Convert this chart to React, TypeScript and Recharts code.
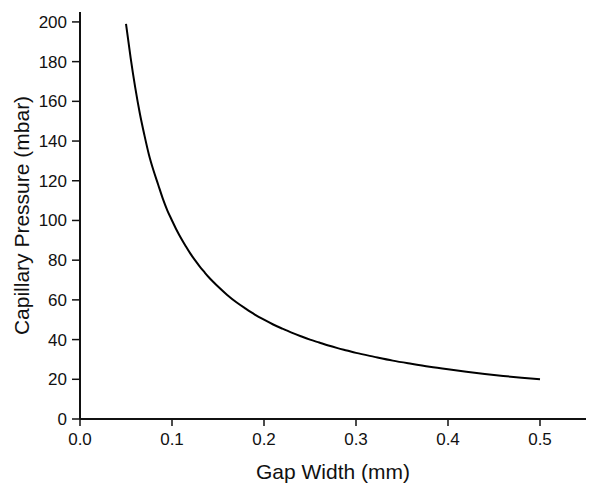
import { LineChart, Line, XAxis, YAxis } from 'recharts';

// gap width (mm) vs capillary pressure (mbar)
const gapWidth = [
  0.05, 0.055, 0.06, 0.065, 0.07, 0.075, 0.08, 0.085, 0.09, 0.095,
  0.1, 0.105, 0.11, 0.115, 0.12, 0.125, 0.13, 0.135, 0.14, 0.145,
  0.15, 0.16, 0.17, 0.18, 0.19, 0.2, 0.21, 0.22, 0.23, 0.24,
  0.25, 0.26, 0.27, 0.28, 0.29, 0.3, 0.32, 0.34, 0.36, 0.38,
  0.4, 0.42, 0.44, 0.46, 0.48, 0.5,
];
const pressure = [
  199, 182, 167, 154, 143, 133, 125, 118, 111, 105,
  100, 95.2, 90.9, 87, 83.3, 80, 76.9, 74.1, 71.4, 69,
  66.7, 62.5, 58.8, 55.6, 52.6, 50, 47.6, 45.5, 43.5, 41.7,
  40, 38.5, 37, 35.7, 34.5, 33.3, 31.3, 29.4, 27.8, 26.3,
  25, 23.8, 22.7, 21.7, 20.8, 20,
];

const xMajor = [0, 0.1, 0.2, 0.3, 0.4, 0.5];
const xMinor = [0.05, 0.15, 0.25, 0.35, 0.45, 0.55];
const yMajor = [0, 20, 40, 60, 80, 100, 120, 140, 160, 180, 200];
const yMinor = [10, 30, 50, 70, 90, 110, 130, 150, 170, 190];

const data = gapWidth.map((x, i) => ({ x, p: pressure[i] }));

const font = 'Liberation Sans, Arial, Helvetica, sans-serif';
const ink = '#111';

export default function App() {
  return (
    <div style={{ position: 'absolute', left: 0, top: 0, background: '#fff' }}>
      <LineChart width={590} height={484} data={data} margin={{ top: 12, right: 4, left: 0, bottom: 0 }}>
        {/* minor ticks first so they sit on the plot edge */}
        <XAxis
          xAxisId="minor"
          type="number"
          dataKey="x"
          domain={[0, 0.55]}
          ticks={xMinor}
          interval={0}
          height={0}
          axisLine={false}
          tickSize={4}
          tickLine={{ stroke: ink, strokeWidth: 1.5 }}
          tickFormatter={() => ''}
          allowDataOverflow
        />
        <XAxis
          xAxisId="main"
          type="number"
          dataKey="x"
          domain={[0, 0.55]}
          ticks={xMajor}
          interval={0}
          height={65}
          axisLine={{ stroke: ink, strokeWidth: 2 }}
          tickSize={7}
          tickMargin={7}
          tickLine={{ stroke: ink, strokeWidth: 1.5 }}
          tick={{ fill: ink, fontSize: 17, fontFamily: font }}
          tickFormatter={(v: number) => v.toFixed(1)}
          label={{ value: 'Gap Width (mm)', position: 'insideBottom', offset: 5, fill: ink, fontSize: 21, fontFamily: font }}
          allowDataOverflow
        />
        <YAxis
          yAxisId="minor"
          type="number"
          domain={[0, 205]}
          ticks={yMinor}
          interval={0}
          width={0}
          axisLine={false}
          tickSize={4}
          tickLine={{ stroke: ink, strokeWidth: 1.5 }}
          tickFormatter={() => ''}
          allowDataOverflow
        />
        <YAxis
          yAxisId="main"
          type="number"
          domain={[0, 205]}
          ticks={yMajor}
          interval={0}
          width={80}
          axisLine={{ stroke: ink, strokeWidth: 2 }}
          tickSize={8}
          tickMargin={5}
          tickLine={{ stroke: ink, strokeWidth: 1.5 }}
          tick={{ fill: ink, fontSize: 17, fontFamily: font }}
          label={{ value: 'Capillary Pressure (mbar)', angle: -90, position: 'center', dx: -18, fill: ink, fontSize: 21, fontFamily: font }}
          allowDataOverflow
        />
        <Line
          xAxisId="main"
          yAxisId="main"
          type="monotone"
          dataKey="p"
          stroke="#000"
          strokeWidth={2}
          dot={false}
          isAnimationActive={false}
        />
      </LineChart>
    </div>
  );
}
